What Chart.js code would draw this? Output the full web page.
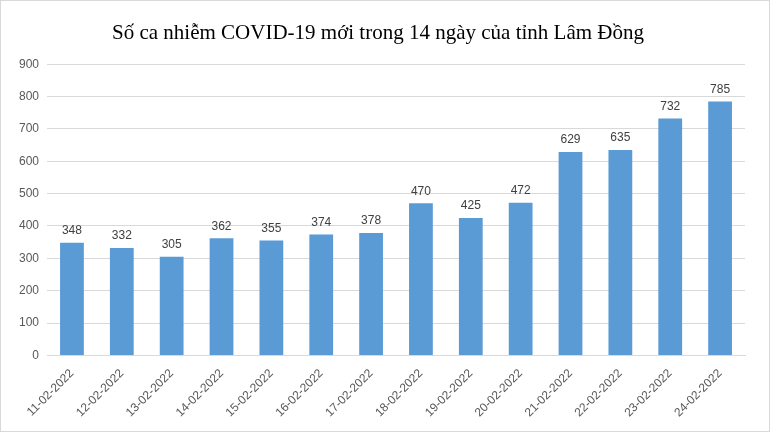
<!DOCTYPE html>
<html lang="vi">
  <head>
    <meta charset="UTF-8" />
    <title>Số ca nhiễm COVID-19</title>
    <script src="https://cdn.jsdelivr.net/npm/chart.js"></script>
    <style>
      html, body { margin: 0; padding: 0; background: #fff; }
      .wrap { width: 768px; height: 430px; border: 1px solid #d9d9d9; }
    </style>
  </head>
  <body>
    <div class="wrap"><canvas id="chart" width="768" height="430"></canvas></div>
    <script>
      const days = [
        "11-02-2022", "12-02-2022", "13-02-2022", "14-02-2022", "15-02-2022",
        "16-02-2022", "17-02-2022", "18-02-2022", "19-02-2022", "20-02-2022",
        "21-02-2022", "22-02-2022", "23-02-2022", "24-02-2022",
      ];
      const cases = [348, 332, 305, 362, 355, 374, 378, 470, 425, 472, 629, 635, 732, 785];

      // draws the value above each bar
      const valueLabels = {
        id: "valueLabels",
        afterDatasetsDraw(chart) {
          const ctx = chart.ctx;
          const meta = chart.getDatasetMeta(0);
          ctx.save();
          ctx.fillStyle = "#404040";
          ctx.font = "12px 'Liberation Sans', Arial, sans-serif";
          ctx.textAlign = "center";
          ctx.textBaseline = "bottom";
          meta.data.forEach((bar, i) => {
            ctx.fillText(cases[i], bar.x, bar.y - 6);
          });
          ctx.restore();
        },
      };

      new Chart(document.getElementById("chart"), {
        type: "bar",
        data: {
          labels: days,
          datasets: [
            {
              data: cases,
              backgroundColor: "#5b9bd5",
              barPercentage: 0.9,
              categoryPercentage: 0.53,
            },
          ],
        },
        options: {
          responsive: false,
          animation: false,
          layout: { padding: { left: 10, right: 24, top: 14, bottom: 8 } },
          plugins: {
            legend: { display: false },
            tooltip: { enabled: false },
            title: {
              display: true,
              text: "Số ca nhiễm COVID-19 mới trong 14 ngày của tỉnh Lâm Đồng",
              color: "#000",
              font: { family: "'Liberation Serif', 'Times New Roman', serif", size: 21, weight: "normal" },
              padding: { top: 6, bottom: 18 },
            },
          },
          scales: {
            x: {
              grid: { display: false },
              border: { color: "#d9d9d9" },
              ticks: {
                color: "#595959",
                font: { family: "'Liberation Sans', Arial, sans-serif", size: 12 },
                maxRotation: 45,
                minRotation: 45,
              },
            },
            y: {
              min: 0,
              max: 900,
              ticks: {
                stepSize: 100,
                color: "#595959",
                font: { family: "'Liberation Sans', Arial, sans-serif", size: 12 },
                padding: 8,
              },
              grid: { color: "#d9d9d9", drawTicks: false },
              border: { display: false },
            },
          },
        },
        plugins: [valueLabels],
      });
    </script>
  </body>
</html>
